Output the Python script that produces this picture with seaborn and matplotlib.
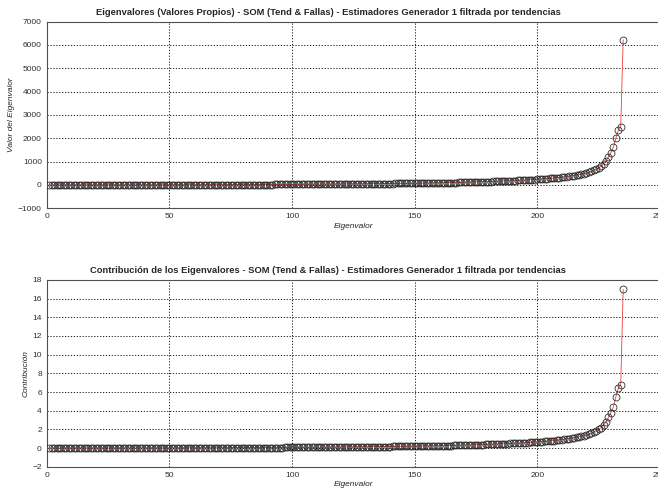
import numpy as np
import seaborn as sns
import matplotlib
matplotlib.use("Agg")
import matplotlib.pyplot as plt

# Eigenvalores ordenados
eigenvalores = [
    0.0, 0.0, 0.1, 0.1, 0.1, 0.2, 0.2, 0.2, 0.3, 0.3,
    0.3, 0.4, 0.4, 0.5, 0.5, 0.6, 0.6, 0.7, 0.7, 0.8,
    0.8, 0.9, 1.0, 1.0, 1.1, 1.2, 1.2, 1.3, 1.4, 1.5,
    1.5, 1.6, 1.7, 1.8, 1.9, 2.0, 2.1, 2.2, 2.3, 2.4,
    2.5, 2.6, 2.8, 2.9, 3.0, 3.2, 3.3, 3.5, 3.6, 3.8,
    3.9, 4.1, 4.3, 4.5, 4.7, 4.9, 5.1, 5.3, 5.5, 5.8,
    6.0, 6.2, 6.5, 6.8, 7.0, 7.3, 7.6, 7.9, 8.2, 8.5,
    8.8, 9.1, 9.5, 9.8, 10.2, 10.5, 10.9, 11.3, 11.7, 12.1,
    12.5, 12.9, 13.3, 13.8, 14.2, 14.7, 15.1, 15.6, 16.1, 16.6,
    17.1, 17.6, 18.1, 18.7, 19.2, 19.8, 20.4, 21.0, 21.6, 22.2,
    22.8, 23.4, 24.1, 24.8, 25.4, 26.1, 26.8, 27.5, 28.3, 29.0,
    29.8, 30.5, 31.3, 32.1, 32.9, 33.8, 34.6, 35.5, 36.4, 37.3,
    38.2, 39.1, 40.1, 41.0, 42.0, 44.0, 45.5, 46.5, 47.5, 48.5,
    50, 51, 52, 53, 54, 55, 56, 57, 58, 59,
    60, 61, 62, 63, 64, 65, 66, 67, 68, 69,
    70, 72, 74, 76, 78, 80, 82, 84, 86, 88,
    90, 92, 94, 96, 98, 100, 103, 106, 109, 112,
    115, 118, 121, 124, 127, 130, 133, 136, 139, 142,
    145, 149, 153, 157, 161, 165, 169, 173, 177, 181,
    186, 191, 196, 201, 206, 211, 217, 223, 229, 236,
    243, 250, 258, 266, 275, 284, 294, 305, 316, 328,
    341, 355, 370, 386, 403, 421, 441, 462, 485, 510,
    537, 580, 628, 682, 740, 793, 906, 1028, 1200, 1385,
    1607, 2000, 2335, 2490, 6220,
]

# Contribucion de cada eigenvalor (%)
contribucion = [
    0.000, 0.000, 0.000, 0.000, 0.000, 0.001, 0.001, 0.001, 0.001, 0.001,
    0.001, 0.001, 0.001, 0.001, 0.001, 0.002, 0.002, 0.002, 0.002, 0.002,
    0.002, 0.002, 0.003, 0.003, 0.003, 0.003, 0.003, 0.004, 0.004, 0.004,
    0.004, 0.004, 0.005, 0.005, 0.005, 0.005, 0.006, 0.006, 0.006, 0.007,
    0.007, 0.007, 0.008, 0.008, 0.008, 0.009, 0.009, 0.010, 0.010, 0.010,
    0.011, 0.011, 0.012, 0.012, 0.013, 0.013, 0.014, 0.014, 0.015, 0.016,
    0.016, 0.017, 0.018, 0.019, 0.019, 0.020, 0.021, 0.022, 0.022, 0.023,
    0.024, 0.025, 0.026, 0.027, 0.028, 0.029, 0.030, 0.031, 0.032, 0.033,
    0.034, 0.035, 0.036, 0.038, 0.039, 0.040, 0.041, 0.043, 0.044, 0.045,
    0.047, 0.048, 0.049, 0.051, 0.052, 0.054, 0.056, 0.057, 0.059, 0.061,
    0.062, 0.064, 0.066, 0.068, 0.069, 0.071, 0.073, 0.075, 0.077, 0.079,
    0.081, 0.083, 0.086, 0.088, 0.090, 0.092, 0.095, 0.097, 0.099, 0.102,
    0.104, 0.107, 0.110, 0.112, 0.115, 0.120, 0.124, 0.127, 0.130, 0.133,
    0.137, 0.139, 0.142, 0.145, 0.148, 0.150, 0.153, 0.156, 0.158, 0.161,
    0.164, 0.167, 0.169, 0.172, 0.175, 0.178, 0.180, 0.183, 0.186, 0.189,
    0.191, 0.197, 0.202, 0.208, 0.213, 0.219, 0.224, 0.230, 0.235, 0.240,
    0.246, 0.251, 0.257, 0.262, 0.268, 0.273, 0.281, 0.290, 0.298, 0.306,
    0.314, 0.322, 0.331, 0.339, 0.347, 0.355, 0.363, 0.372, 0.380, 0.388,
    0.396, 0.407, 0.418, 0.429, 0.440, 0.451, 0.462, 0.473, 0.484, 0.495,
    0.508, 0.522, 0.536, 0.549, 0.563, 0.577, 0.593, 0.609, 0.626, 0.645,
    0.664, 0.683, 0.705, 0.727, 0.751, 0.776, 0.803, 0.833, 0.863, 0.896,
    0.932, 0.970, 1.011, 1.055, 1.101, 1.150, 1.205, 1.262, 1.325, 1.393,
    1.467, 1.585, 1.716, 1.863, 2.022, 2.167, 2.475, 2.809, 3.279, 3.784,
    4.391, 5.464, 6.380, 6.803, 16.995,
]

indice = list(range(1, len(eigenvalores) + 1))

titulo_eig = "Eigenvalores (Valores Propios) - SOM (Tend & Fallas) - Estimadores Generador 1 filtrada por tendencias"
titulo_con = "Contribución de los Eigenvalores - SOM (Tend & Fallas) - Estimadores Generador 1 filtrada por tendencias"

sns.set_style("white")
plt.rcParams["font.family"] = ["Liberation Sans", "DejaVu Sans"]

fig = plt.figure(figsize=(6.58, 4.9), dpi=100)
ax1 = fig.add_axes([0.071, 0.575, 0.932, 0.381])
ax2 = fig.add_axes([0.071, 0.0476, 0.932, 0.381])


def dibujar(ax, y, ylim, yticks, ylabel, titulo):
    sns.lineplot(x=indice, y=y, ax=ax, color="#e8403c", linewidth=0.6, zorder=2)
    sns.lineplot(x=indice, y=y, ax=ax, linestyle="none", marker="o", markersize=5,
                 markerfacecolor="none", mec="#202020", mew=0.55, zorder=3)
    ax.set_xlim(0, 250)
    ax.set_ylim(*ylim)
    ax.set_xticks([0, 50, 100, 150, 200, 250])
    ax.set_yticks(yticks)
    ax.grid(True, linestyle=(0, (1.5, 2)), color="black", linewidth=0.6)
    ax.tick_params(direction="in", labelsize=6, colors="#303030", length=3)
    for s in ax.spines.values():
        s.set_color("#505050")
        s.set_linewidth(0.8)
    ax.set_xlabel("Eigenvalor", fontsize=6, style="italic", labelpad=2)
    ax.set_ylabel(ylabel, fontsize=6, style="italic", labelpad=2)
    ax.set_title(titulo, fontsize=6.75, fontweight="bold", pad=5, x=0.459)


dibujar(ax1, eigenvalores, (-1000, 7000), range(-1000, 7001, 1000),
        "Valor del Eigenvalor", titulo_eig)
dibujar(ax2, contribucion, (-2, 18), range(-2, 19, 2),
        "Contribución", titulo_con)

fig.savefig("out.png", dpi=100)
